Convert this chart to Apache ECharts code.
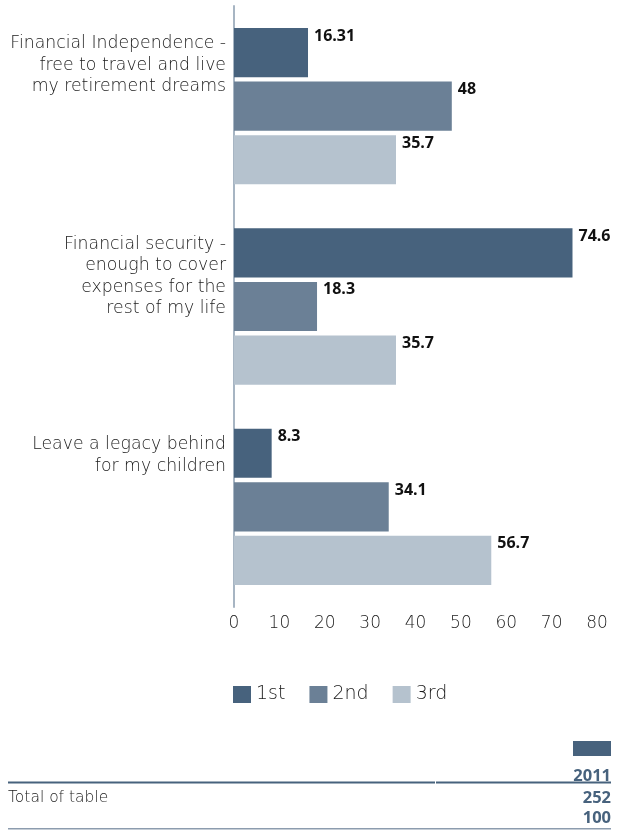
<!DOCTYPE html>
<html><head><meta charset="utf-8">
<script src="https://cdn.jsdelivr.net/npm/echarts@6/dist/echarts.min.js"></script>
<style>html,body{margin:0;padding:0;background:#fff}#c{width:619px;height:832px}</style>
</head><body><div id="c"></div>
<script>
const categories = ['Financial Independence -\nfree to travel and live\nmy retirement dreams', 'Financial security -\nenough to cover\nexpenses for the\nrest of my life', 'Leave a legacy behind\nfor my children'];
const seriesNames = ['1st', '2nd', '3rd'];
const s1st = [16.31, 74.6, 8.3];
const s2nd = [48, 18.3, 34.1];
const s3rd = [35.7, 35.7, 56.7];
const xTicks = [0, 80, 10];
const tableYear = '2011';
const tableRowLabel = 'Total of table';
const tableValues = ['252', '100'];

const colors = ['#47627d', '#6b8096', '#b5c2ce'];
const FONT = '"DejaVu Sans"';
const TXT = '#1a1a1a';
const chart = echarts.init(document.getElementById('c'));
const mk = (name, data, i) => ({
  name, type: 'bar', data,
  barCategoryGap: '22%', barGap: '9%',
  itemStyle: { color: colors[i] },
  label: { show: true, position: ['100%', 0], offset: [6, 0], align: 'left', verticalAlign: 'top',
    fontFamily: 'Open Sans', fontWeight: 'bold', fontSize: 16, color: '#111' }
});
chart.setOption({
  animation: false,
  textStyle: { fontFamily: FONT },
  grid: { left: 234, right: 22, top: 6, bottom: 225, containLabel: false },
  xAxis: { type: 'value', min: xTicks[0], max: xTicks[1], interval: xTicks[2],
    axisLine: { show: false }, axisTick: { show: false }, splitLine: { show: false },
    axisLabel: { fontFamily: FONT, fontWeight: 200, fontSize: 17, color: TXT, margin: 8 } },
  yAxis: { type: 'category', inverse: true, data: categories,
    axisLine: { show: true, lineStyle: { color: '#a7b5c3', width: 2 } },
    axisTick: { show: false },
    axisLabel: { interval: 0, fontFamily: FONT, fontWeight: 200, fontSize: 17.3, color: TXT, lineHeight: 21.5,
      align: 'right', verticalAlign: 'top', padding: [-73, 0, 0, 0], margin: 8 } },
  legend: { left: 228, top: 680, itemWidth: 18, itemHeight: 17, itemGap: 24, icon: 'rect',
    textStyle: { fontFamily: FONT, fontWeight: 200, fontSize: 19, color: TXT }, data: seriesNames },
  series: [mk(seriesNames[0], s1st, 0), mk(seriesNames[1], s2nd, 1), mk(seriesNames[2], s3rd, 2)],
  graphic: [
    { type: 'rect', shape: { x: 573, y: 741, width: 38, height: 15 }, style: { fill: '#47627d' } },
    { type: 'text', x: 611, y: 776, style: { text: tableYear, align: 'right', verticalAlign: 'middle', fill: '#47627d', font: 'bold 16.5px "Open Sans"' } },
    { type: 'rect', shape: { x: 8, y: 781.5, width: 427, height: 2 }, style: { fill: '#47627d' } },
    { type: 'rect', shape: { x: 436, y: 781.5, width: 175, height: 2 }, style: { fill: '#47627d' } },
    { type: 'text', x: 8, y: 798, style: { text: tableRowLabel, align: 'left', verticalAlign: 'middle', fill: TXT, font: '200 15.5px "DejaVu Sans"' } },
    { type: 'text', x: 611, y: 798, style: { text: tableValues[0], align: 'right', verticalAlign: 'middle', fill: '#47627d', font: 'bold 16.5px "Open Sans"' } },
    { type: 'text', x: 611, y: 818, style: { text: tableValues[1], align: 'right', verticalAlign: 'middle', fill: '#47627d', font: 'bold 16.5px "Open Sans"' } },
    { type: 'rect', shape: { x: 8, y: 828, width: 603, height: 1.5 }, style: { fill: '#8c9cae' } }
  ]
});
</script></body></html>
